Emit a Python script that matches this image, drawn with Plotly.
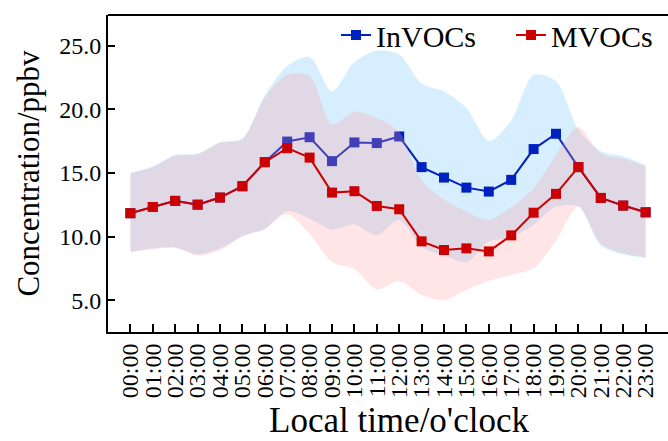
import plotly.graph_objects as go

hours = list(range(24))
hour_labels = [f"{h:02d}:00" for h in hours]

invocs_mean = [11.83, 12.32, 12.8, 12.5, 13.06, 13.95, 15.84, 17.46, 17.8, 15.92, 17.39, 17.34,
               17.86, 15.45, 14.63, 13.84, 13.53, 14.45, 16.87, 18.07, 15.45, 13.03, 12.43, 11.9]
invocs_upper = [15.0, 15.5, 16.4, 16.5, 17.4, 17.7, 21.1, 23.4, 24.1, 21.4, 23.7, 24.6,
                24.3, 22.0, 21.4, 20.1, 17.5, 19.1, 22.7, 22.2, 18.4, 16.7, 16.3, 15.6]
invocs_lower = [8.8, 9.07, 9.15, 8.6, 9.07, 10.04, 10.6, 12.0, 11.4, 10.55, 10.95, 10.1,
                11.3, 9.2, 8.5, 8.0, 9.6, 9.94, 10.9, 12.35, 12.35, 9.3, 8.6, 8.3]

mvocs_mean = [11.83, 12.32, 12.8, 12.5, 13.06, 13.95, 15.84, 16.94, 16.2, 13.45, 13.56, 12.4,
              12.14, 9.62, 8.94, 9.07, 8.83, 10.09, 11.87, 13.35, 15.45, 13.03, 12.43, 11.9]
mvocs_upper = [14.95, 15.45, 16.35, 16.45, 17.35, 17.65, 20.9, 22.7, 22.6, 18.8, 19.8, 19.3,
               18.2, 14.4, 12.9, 11.95, 11.3, 12.3, 13.8, 16.4, 18.6, 16.5, 16.1, 15.5]
mvocs_lower = [8.75, 9.0, 9.1, 8.5, 8.9, 10.0, 10.6, 11.75, 10.2, 8.0, 7.44, 5.84,
               6.5, 5.4, 5.0, 5.8, 6.5, 7.0, 7.5, 9.67, 12.35, 9.46, 8.7, 8.4]

y_ticks = [5, 10, 15, 20, 25]

FONT = "Liberation Serif, Times New Roman, serif"
BLUE = "#0020C0"
RED = "#CC0000"
BLUE_FILL = "rgba(135,206,250,0.34)"
RED_FILL = "rgba(255,154,160,0.26)"

fig = go.Figure()

# InVOCs band
fig.add_trace(go.Scatter(x=hours, y=invocs_lower, mode="lines",
                         line=dict(width=0, shape="spline", smoothing=0.8),
                         showlegend=False, hoverinfo="skip"))
fig.add_trace(go.Scatter(x=hours, y=invocs_upper, mode="lines", fill="tonexty",
                         fillcolor=BLUE_FILL,
                         line=dict(width=0, shape="spline", smoothing=0.8),
                         showlegend=False, hoverinfo="skip"))
# InVOCs line
fig.add_trace(go.Scatter(x=hours, y=invocs_mean, mode="lines+markers", name="InVOCs",
                         line=dict(color=BLUE, width=2),
                         marker=dict(symbol="square", size=10, color=BLUE)))
# MVOCs band
fig.add_trace(go.Scatter(x=hours, y=mvocs_lower, mode="lines",
                         line=dict(width=0, shape="spline", smoothing=0.8),
                         showlegend=False, hoverinfo="skip"))
fig.add_trace(go.Scatter(x=hours, y=mvocs_upper, mode="lines", fill="tonexty",
                         fillcolor=RED_FILL,
                         line=dict(width=0, shape="spline", smoothing=0.8),
                         showlegend=False, hoverinfo="skip"))
# MVOCs line
fig.add_trace(go.Scatter(x=hours, y=mvocs_mean, mode="lines+markers", name="MVOCs",
                         line=dict(color=RED, width=2),
                         marker=dict(symbol="square", size=10, color=RED)))

fig.update_layout(
    width=668, height=441,
    margin=dict(l=108, r=0, t=15, b=109, autoexpand=False),
    paper_bgcolor="white", plot_bgcolor="white",
    font=dict(family=FONT, color="black", size=24),
    legend=dict(orientation="h", x=(336 - 108) / 560, xanchor="left",
                y=1.019, yanchor="top",
                font=dict(family=FONT, size=30), bgcolor="rgba(0,0,0,0)",
                traceorder="normal", itemwidth=30, entrywidth=130, entrywidthmode="pixels"),
    showlegend=True,
    annotations=[dict(text="Local time/o'clock", xref="paper", yref="paper",
                      x=(399 - 108) / 560, y=-(420 - 332) / 317, xanchor="center",
                      yanchor="middle", showarrow=False,
                      font=dict(family=FONT, size=35, color="black"))],
)

fig.update_xaxes(
    range=[-1, 24], tickvals=hours, ticktext=hour_labels, tickangle=-90,
    ticks="inside", ticklen=8, tickwidth=2, tickcolor="black",
    showline=True, linecolor="black", linewidth=2, showgrid=False, zeroline=False,
    tickfont=dict(family=FONT, size=24),
)
fig.update_yaxes(
    range=[2.5, 27.4], tickvals=y_ticks, tickformat=".1f",
    ticks="inside", ticklen=7, tickwidth=2, tickcolor="black",
    showline=True, linecolor="black", linewidth=2, showgrid=False, zeroline=False,
    tickfont=dict(family=FONT, size=24),
    title=dict(text="Concentration/ppbv", font=dict(family=FONT, size=31), standoff=10),
)

fig.add_shape(type="line", xref="paper", yref="paper", x0=0, x1=1, y0=1, y1=1,
              line=dict(color="black", width=2))

fig.write_html("out.html")
